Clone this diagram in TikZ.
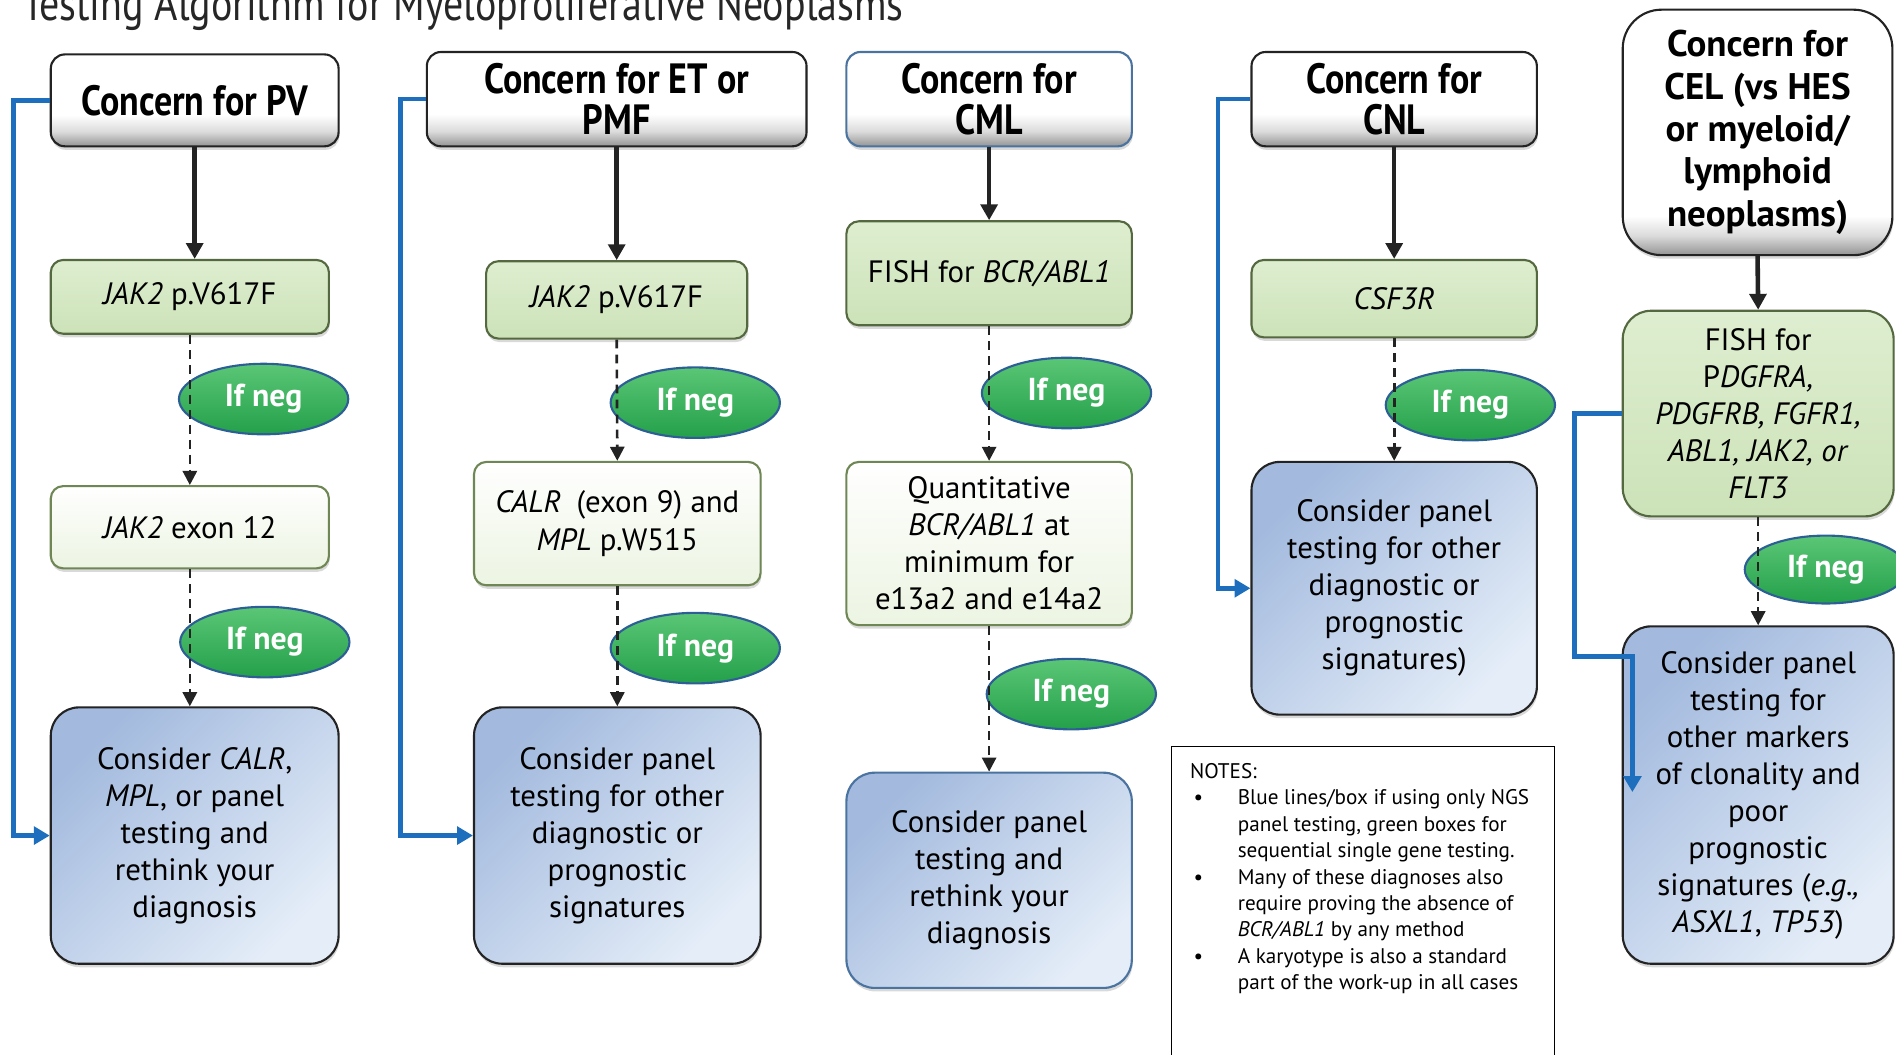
\documentclass[tikz,border=0pt]{standalone}
\usepackage{fontspec}
\setmainfont{PT Sans}
\newfontfamily\hdrfont[FakeStretch=0.85]{PT Sans}
\newfontfamily\ttlfont[FakeStretch=0.84]{PT Sans}
\usepackage{tikz}
\usetikzlibrary{arrows.meta,shadows,shapes.geometric}
\definecolor{mpblue}{RGB}{30,110,190}
\definecolor{mpdark}{RGB}{35,35,35}
\definecolor{mpgreen}{RGB}{204,226,184}
\definecolor{mpgreentop}{RGB}{222,238,208}
\definecolor{mpgreenedge}{RGB}{85,105,65}
\definecolor{mplightgreen}{RGB}{236,244,226}
\definecolor{mplightedge}{RGB}{110,135,85}
\definecolor{mpbluetl}{RGB}{163,186,222}
\definecolor{mpbluebr}{RGB}{228,237,248}
\definecolor{mpneg}{RGB}{36,160,74}
\definecolor{mpnegtop}{RGB}{90,198,118}
\definecolor{mpnegedge}{RGB}{45,95,150}
\definecolor{mpcmledge}{RGB}{75,115,160}
\pgfdeclareverticalshading{mphdrshade}{100bp}{color(0bp)=(black!42); color(25bp)=(black!42); color(33bp)=(black!14); color(42bp)=(white); color(100bp)=(white)}
\pgfdeclareverticalshading{mptallshade}{100bp}{color(0bp)=(black!42); color(25bp)=(black!42); color(29bp)=(black!14); color(33bp)=(white); color(100bp)=(white)}
\def\mpx{0.6857pt}
\tikzset{
  mptitle/.style={font=\ttlfont\fontsize{27}{30}\selectfont, text=black!85, inner sep=0pt},
  mphdr/.style={draw=mpdark, line width=1.2pt, rounded corners=8pt, shading=mphdrshade, align=center, inner sep=0pt, font=\hdrfont\bfseries\fontsize{24}{23.5}\selectfont, drop shadow={opacity=.3, shadow xshift=.5pt, shadow yshift=-2pt}},
  mpgene/.style={draw=mpgreenedge, line width=1.2pt, rounded corners=7pt, top color=mpgreentop, bottom color=mpgreen, align=center, inner sep=0pt, drop shadow={opacity=.3, shadow xshift=.5pt, shadow yshift=-2pt}},
  mpnext/.style={mpgene, draw=mplightedge, top color=white, bottom color=mplightgreen},
  mpcons/.style={draw=mpdark, line width=1.2pt, rounded corners=16pt, top color=mpbluetl, bottom color=mpbluebr, shading angle=45, align=center, inner sep=0pt, drop shadow={opacity=.3, shadow xshift=.5pt, shadow yshift=-2pt}},
  mpneg/.style={ellipse, draw=mpnegedge, line width=1.2pt, top color=mpnegtop, bottom color=mpneg, text=white, font=\bfseries\fontsize{18}{20}\selectfont, minimum width=96pt, minimum height=40pt, inner sep=0pt},
  mparr/.style={-{Triangle[length=9pt,width=9.5pt]}, line width=2.6pt, draw=mpdark},
  mpdash/.style={-{Triangle[length=8pt,width=8pt]}, line width=1.5pt, dash pattern=on 5pt off 3.5pt, draw=mpdark},
  mpbluearr/.style={-{Triangle[length=9pt,width=10pt]}, line width=2.6pt, draw=mpblue},
  mpnotebox/.style={draw=black, line width=.7pt, inner sep=0pt}
}
\begin{document}
\begin{tikzpicture}[x=0.6857pt, y=-0.6857pt, font=\fontsize{17.5}{21}\selectfont]
  \useasboundingbox (0,0) rectangle (1568,872);
  \clip (0,0) rectangle (1568,872);
  \node[mptitle, anchor=base west] (title) at (18,17) {Testing Algorithm for Myeloproliferative Neoplasms};

  % PV
  \node[mphdr, minimum width=238*\mpx, minimum height=76*\mpx] (pvhdr) at (161,83) {Concern for PV};
  \node[mpgene, minimum width=230*\mpx, minimum height=61*\mpx] (pvjak) at (157,245.5) {\textit{JAK2} p.V617F};
  \node[mpnext, minimum width=230*\mpx, minimum height=68*\mpx] (pvexon) at (157,436) {\textit{JAK2} exon 12};
  \node[mpcons, minimum width=238*\mpx, minimum height=212*\mpx] (pvcons) at (161,691) {Consider \textit{CALR},\\\textit{MPL}, or panel\\testing and\\rethink your\\diagnosis};
  \node[mpneg] (pvneg1) at (218,330) {If neg};
  \node[mpneg] (pvneg2) at (219,531) {If neg};

  % ET or PMF
  \node[mphdr, minimum width=314*\mpx, minimum height=78*\mpx] (ethdr) at (510,82) {Concern for ET or\\PMF};
  \node[mpgene, minimum width=216*\mpx, minimum height=64*\mpx] (etjak) at (510,248) {\textit{JAK2} p.V617F};
  \node[mpnext, minimum width=237*\mpx, minimum height=102*\mpx] (etcalr) at (510.5,433) {\textit{CALR}\enspace(exon 9) and\\\textit{MPL} p.W515};
  \node[mpcons, minimum width=237*\mpx, minimum height=212*\mpx] (etcons) at (510.5,691) {Consider panel\\testing for other\\diagnostic or\\prognostic\\signatures};
  \node[mpneg] (etneg1) at (575,333) {If neg};
  \node[mpneg] (etneg2) at (575,536) {If neg};

  % CML
  \node[mphdr, draw=mpcmledge, minimum width=236*\mpx, minimum height=78*\mpx] (cmlhdr) at (818,82) {Concern for\\CML};
  \node[mpgene, minimum width=236*\mpx, minimum height=86*\mpx] (cmlfish) at (818,226) {FISH for \textit{BCR/ABL1}};
  \node[mpnext, minimum width=236*\mpx, minimum height=135*\mpx] (cmlquant) at (818,449.5) {Quantitative\\\textit{BCR/ABL1} at\\minimum for\\e13a2 and e14a2};
  \node[mpcons, draw=mpcmledge, minimum width=236*\mpx, minimum height=178*\mpx] (cmlcons) at (818,728) {Consider panel\\testing and\\rethink your\\diagnosis};
  \node[mpneg] (cmlneg1) at (882,325) {If neg};
  \node[mpneg] (cmlneg2) at (886,574) {If neg};

  % CNL
  \node[mphdr, minimum width=236*\mpx, minimum height=78*\mpx] (cnlhdr) at (1153,82) {Concern for\\CNL};
  \node[mpgene, minimum width=236*\mpx, minimum height=64*\mpx] (cnlcsf) at (1153,247) {\textit{CSF3R}};
  \node[mpcons, minimum width=236*\mpx, minimum height=209*\mpx] (cnlcons) at (1153,486.5) {Consider panel\\testing for other\\diagnostic or\\prognostic\\signatures)};
  \node[mpneg] (cnlneg) at (1216,335) {If neg};

  % CEL
  \node[mphdr, shading=mptallshade, rounded corners=22pt, font=\bfseries\fontsize{21}{24}\selectfont, minimum width=223*\mpx, minimum height=203*\mpx] (celhdr) at (1453.5,109.5) {Concern for\\CEL (vs HES\\or myeloid/\\lymphoid\\neoplasms)};
  \node[mpgene, rounded corners=16pt, minimum width=224*\mpx, minimum height=170*\mpx] (celfish) at (1454,342) {FISH for\\P\textit{DGFRA,}\\\textit{PDGFRB, FGFR1,}\\\textit{ABL1, JAK2, or}\\\textit{FLT3}};
  \node[mpcons, minimum width=224*\mpx, minimum height=279*\mpx] (celcons) at (1454,657.5) {Consider panel\\testing for\\other markers\\of clonality and\\poor\\prognostic\\signatures (\textit{e.g.,}\\\textit{ASXL1}, \textit{TP53})};
  \node[mpneg, minimum width=92pt, minimum height=38.5pt] (celneg) at (1510,471) {If neg};

  % notes
  \node[mpnotebox, anchor=north west, minimum width=317*\mpx, minimum height=280*\mpx] (notebox) at (968,617) {};
  \node[anchor=north west, inner sep=0pt, font=\fontsize{12}{15}\selectfont] (notes) at (984,628) {%
    \begin{tabular}{@{}p{27pt}@{}p{190pt}@{}}
      \multicolumn{2}{@{}l@{}}{NOTES:}\\
      \hspace{2pt}\textbullet & Blue lines/box if using only NGS\newline panel testing, green boxes for\newline sequential single gene testing.\\
      \hspace{2pt}\textbullet & Many of these diagnoses also\newline require proving the absence of\newline \textit{BCR/ABL1} by any method\\
      \hspace{2pt}\textbullet & A karyotype is also a standard\newline part of the work-up in all cases
    \end{tabular}};

  % single gene path
  \draw[mparr] (pvhdr.south) -- (pvhdr.south |- pvjak.north);
  \draw[mpdash] (pvjak.south) -- (pvjak.south |- pvexon.north);
  \draw[mpdash] (pvexon.south) -- (pvexon.south |- pvcons.north);
  \draw[mparr] (ethdr.south) -- (etjak.north);
  \draw[mpdash] (etjak.south) -- (etcalr.north);
  \draw[mpdash] (etcalr.south) -- (etcons.north);
  \draw[mparr] (cmlhdr.south) -- (cmlfish.north);
  \draw[mpdash] (cmlfish.south) -- (cmlquant.north);
  \draw[mpdash] (cmlquant.south) -- (cmlcons.north);
  \draw[mparr] (cnlhdr.south) -- (cnlcsf.north);
  \draw[mpdash] (cnlcsf.south) -- (cnlcons.north);
  \draw[mparr] (celhdr.south) -- (celfish.north);
  \draw[mpdash] (celfish.south) -- (celcons.north);

  % panel path
  \draw[mpbluearr] (pvhdr.west) -- ++(-30,0) |- (pvcons.west);
  \draw[mpbluearr] (ethdr.west) -- ++(-21,0) |- (etcons.west);
  \draw[mpbluearr] (cnlhdr.west) -- ++(-27,0) |- (cnlcons.west);
  \coordinate (celin) at (1350,655);
  \draw[mpbluearr] (celfish.west) -| ++(-39,201) -| (celin);
\end{tikzpicture}
\end{document}
